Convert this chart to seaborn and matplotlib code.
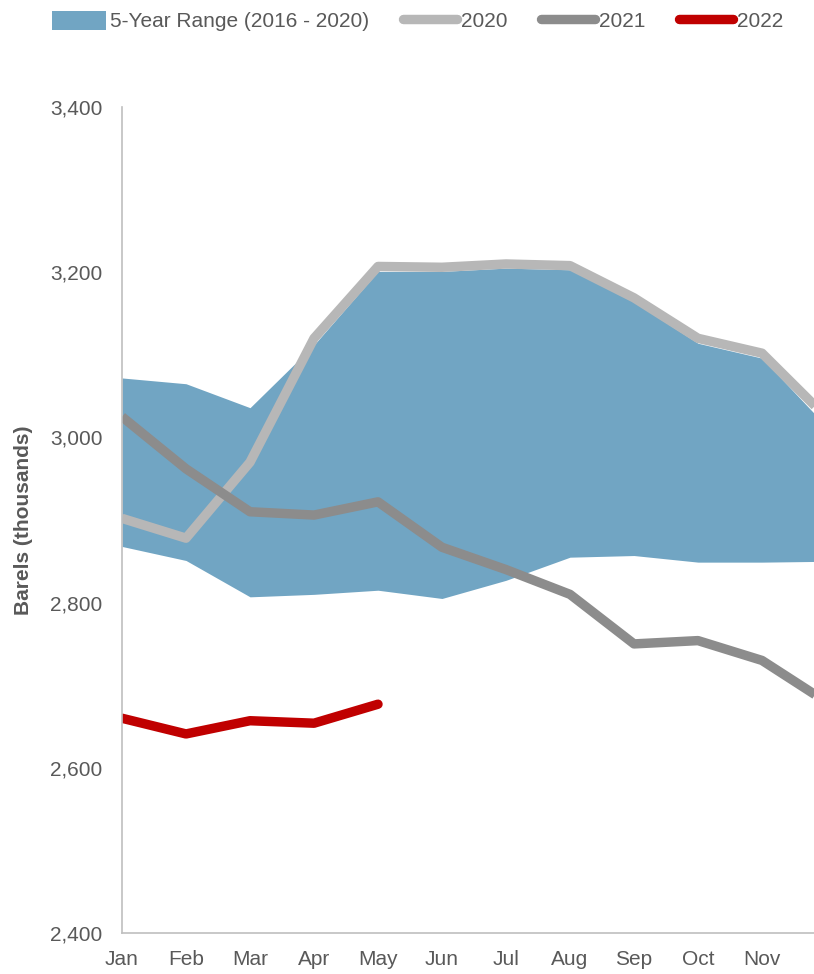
import matplotlib
matplotlib.use("Agg")
import matplotlib.pyplot as plt
import seaborn as sns
import pandas as pd
from matplotlib.patches import Patch
from matplotlib.lines import Line2D

# Data (thousand barrels)
months = ['Jan', 'Feb', 'Mar', 'Apr', 'May', 'Jun', 'Jul', 'Aug', 'Sep', 'Oct', 'Nov', 'Dec']
range_low = [2868, 2851, 2807, 2810, 2815, 2805, 2827, 2855, 2857, 2849, 2849, 2850]
range_high = [3072, 3065, 3036, 3112, 3201, 3201, 3205, 3203, 3164, 3114, 3096, 3014]
y2020 = [2902, 2878, 2970, 3120, 3207, 3206, 3210, 3208, 3169, 3120, 3102, 3025]
y2021 = [3025, 2962, 2910, 2906, 2922, 2867, 2840, 2810, 2750, 2754, 2730, 2680]
y2022 = [2660, 2641, 2657, 2654, 2677]

band_color = '#71A5C3'
colors = {'2020': '#B7B7B7', '2021': '#8C8C8C', '2022': '#C00000'}
text_color = '#595959'

sns.set_theme(style="white")
plt.rcParams['font.family'] = ['Liberation Sans', 'DejaVu Sans']

x = list(range(len(months)))
df = pd.concat([
    pd.DataFrame({'month': x, 'value': y2020, 'year': '2020'}),
    pd.DataFrame({'month': x, 'value': y2021, 'year': '2021'}),
    pd.DataFrame({'month': x[:len(y2022)], 'value': y2022, 'year': '2022'}),
])

fig = plt.figure(figsize=(8.14, 9.74), dpi=100)
ax = fig.add_axes([0.1499, 0.0421, 0.8501, 0.848])

ax.fill_between(x, range_low, range_high, color=band_color, linewidth=0, zorder=1)
sns.lineplot(data=df, x='month', y='value', hue='year', palette=colors,
             linewidth=6.8, legend=False, ax=ax, zorder=2)
for ln in ax.get_lines():
    ln.set_solid_capstyle('butt')
ax.get_lines()[-1].set_solid_capstyle('round')

# Dec falls just past the right edge of the plot, as in the original
ax.set_xlim(0, 10.8125)
ax.set_ylim(2400, 3400)
ax.set_xticks(x[:11])
ax.set_xticklabels(months[:11])
ax.set_yticks([2400, 2600, 2800, 3000, 3200, 3400])
ax.set_yticklabels(['2,400', '2,600', '2,800', '3,000', '3,200', '3,400'])
ax.tick_params(axis='both', length=0, labelsize=15, colors=text_color)
ax.tick_params(axis='x', pad=12)
ax.tick_params(axis='y', pad=14)
ax.set_xlabel('')
ax.set_ylabel('Barels (thousands)', fontsize=15, fontweight='bold', color=text_color, labelpad=12)

for side in ['top', 'right']:
    ax.spines[side].set_visible(False)
for side in ['left', 'bottom']:
    ax.spines[side].set_color('#BFBFBF')
    ax.spines[side].set_linewidth(1.2)

handles = [
    Patch(facecolor=band_color, edgecolor='none', label='5-Year Range (2016 - 2020)'),
    Line2D([], [], color=colors['2020'], linewidth=6.8, solid_capstyle='round', label='2020'),
    Line2D([], [], color=colors['2021'], linewidth=6.8, solid_capstyle='round', label='2021'),
    Line2D([], [], color=colors['2022'], linewidth=6.8, solid_capstyle='round', label='2022'),
]
leg = fig.legend(handles=handles, loc='upper center', bbox_to_anchor=(0.513, 1.008), ncol=4,
                 frameon=False, fontsize=15, handlelength=2.6, handleheight=1.0,
                 handletextpad=0.2, columnspacing=1.6, labelcolor=text_color)

fig.savefig('out.png', dpi=100)
